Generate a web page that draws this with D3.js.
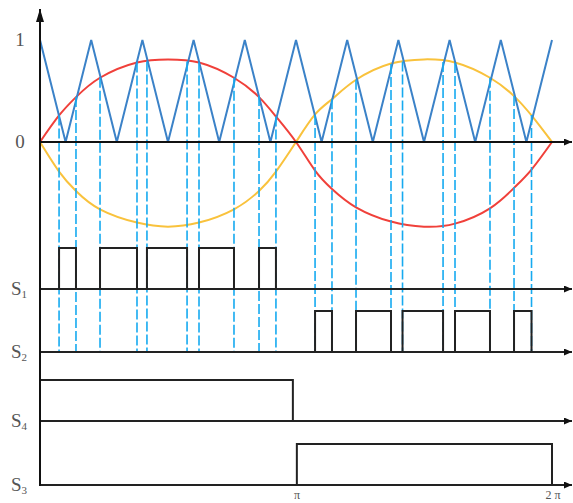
<!DOCTYPE html>
<html>
<head>
<meta charset="utf-8">
<script src="https://cdn.jsdelivr.net/npm/d3@7"></script>
<style>
  html, body { margin: 0; padding: 0; background: #fff; }
  svg { display: block; }
</style>
</head>
<body>
<div class="chart-wrapper"></div>
<script>
// angles in degrees, 0..360 = 0..2π
const carrierAngles = [0, 18, 36, 54, 72, 90, 108, 126, 144, 162, 180, 198, 216, 234, 252, 270, 288, 306, 324, 342, 360];
const carrierValues = [1, 0, 1, 0, 1, 0, 1, 0, 1, 0, 1, 0, 1, 0, 1, 0, 1, 0, 1, 0, 1];

const curveAngles = [0, 13.4, 25.3, 42.2, 68.2, 90, 111.8, 136.4, 154.0, 165.9, 180, 193.4, 205.3, 222.2, 246.8, 270, 291.8, 316.4, 333.3, 345.6, 360];
const redValues = [0, 0.26, 0.44, 0.63, 0.78, 0.81, 0.78, 0.63, 0.44, 0.25, 0, -0.28, -0.46, -0.64, -0.78, -0.83, -0.80, -0.65, -0.45, -0.27, 0];
const yellowValues = [0, -0.29, -0.48, -0.66, -0.79, -0.83, -0.79, -0.66, -0.48, -0.29, 0, 0.27, 0.42, 0.61, 0.77, 0.81, 0.78, 0.63, 0.45, 0.26, 0];

const switchAngles = [13.4, 25.3, 42.2, 68.2, 75.2, 103.4, 111.8, 136.4, 154.0, 165.9,
                      193.4, 205.3, 222.2, 246.8, 254.9, 283.4, 291.8, 316.4, 333.3, 345.6];
const switchLevels = [0.26, 0.44, 0.63, 0.78, 0.79, 0.79, 0.78, 0.63, 0.45, 0.25,
                      0.265, 0.42, 0.61, 0.765, 0.79, 0.785, 0.775, 0.63, 0.45, 0.265];

const s4Pulses = [[0, 177.8]];
const s3Pulses = [[180.6, 360]];

const yTickLabels = ['1', '0'];
const yTickValues = [1, 0];
const xTickLabels = ['π', '2 π'];
const xTickValues = [180, 360];

function pairUp(arr) {
    const out = [];
    for (let i = 0; i < arr.length; i += 2) out.push([arr[i], arr[i + 1]]);
    return out;
}
const s1Pulses = pairUp(switchAngles.slice(0, 10));
const s2Pulses = pairUp(switchAngles.slice(10));

const dims = {
    width: 573,
    height: 503,
    left: 40,
    right: 552,
    arrowEnd: 572,
    zeroY: 142,
    oneY: 40,
    axisTop: 9,
    axisBottom: 486,
    pulseHeight: 41,
};

const serif = '"Liberation Serif", "DejaVu Serif", serif';
const labelColor = '#555';

const rows = [
    {label: 'S', sub: '1', base: 289, pulses: s1Pulses},
    {label: 'S', sub: '2', base: 352, pulses: s2Pulses},
    {label: 'S', sub: '4', base: 421, pulses: s4Pulses},
    {label: 'S', sub: '3', base: 485, pulses: s3Pulses},
];

const svg = d3.select('.chart-wrapper')
    .append('svg')
    .attr('width', dims.width)
    .attr('height', dims.height);

const defs = svg.append('defs');
defs.append('marker')
    .attr('id', 'arrowR')
    .attr('viewBox', '0 0 8 7')
    .attr('refX', 8).attr('refY', 3.5)
    .attr('markerUnits', 'userSpaceOnUse')
    .attr('markerWidth', 8).attr('markerHeight', 7)
    .attr('orient', 'auto')
    .append('path').attr('d', 'M0,0L8,3.5L0,7Z').attr('fill', '#111');
defs.append('marker')
    .attr('id', 'arrowU')
    .attr('viewBox', '0 0 13 8')
    .attr('refX', 13).attr('refY', 4)
    .attr('markerUnits', 'userSpaceOnUse')
    .attr('markerWidth', 13).attr('markerHeight', 8)
    .attr('orient', 'auto')
    .append('path').attr('d', 'M0,0L13,4L0,8Z').attr('fill', '#111');

const xScale = d3.scaleLinear().domain([0, 360]).range([dims.left, dims.right]);
const yScale = d3.scaleLinear().domain([0, 1]).range([dims.zeroY, dims.oneY]);

const curveLine = d3.line()
    .x(d => xScale(d[0]))
    .y(d => yScale(d[1]))
    .curve(d3.curveNatural);

const straightLine = d3.line()
    .x(d => xScale(d[0]))
    .y(d => yScale(d[1]));

// modulating waves
svg.append('path')
    .attr('d', curveLine(d3.zip(curveAngles, yellowValues)))
    .attr('fill', 'none')
    .attr('stroke', '#f9c23c')
    .attr('stroke-width', 2);

svg.append('path')
    .attr('d', curveLine(d3.zip(curveAngles, redValues)))
    .attr('fill', 'none')
    .attr('stroke', '#f0403a')
    .attr('stroke-width', 2);

// carrier
svg.append('path')
    .attr('d', straightLine(d3.zip(carrierAngles, carrierValues)))
    .attr('fill', 'none')
    .attr('stroke', '#3b82c8')
    .attr('stroke-width', 2);

// switching instants
svg.append('g')
    .selectAll('line')
    .data(d3.zip(switchAngles, switchLevels))
    .join('line')
    .attr('x1', d => xScale(d[0]))
    .attr('x2', d => xScale(d[0]))
    .attr('y1', d => yScale(d[1]))
    .attr('y2', rows[1].base)
    .attr('stroke', '#16aaf0')
    .attr('stroke-width', 1.6)
    .attr('stroke-dasharray', '10,3');

// zero line
svg.append('line')
    .attr('x1', dims.left).attr('x2', dims.arrowEnd)
    .attr('y1', dims.zeroY).attr('y2', dims.zeroY)
    .attr('stroke', '#111').attr('stroke-width', 2)
    .attr('marker-end', 'url(#arrowR)');

// pulse rows
rows.forEach(r => {
    const rowY = d3.scaleLinear().domain([0, 1]).range([r.base, r.base - dims.pulseHeight]);
    svg.append('line')
        .attr('x1', dims.left).attr('x2', dims.arrowEnd)
        .attr('y1', r.base).attr('y2', r.base)
        .attr('stroke', '#222').attr('stroke-width', 2)
        .attr('marker-end', 'url(#arrowR)');

    svg.append('g')
        .selectAll('path')
        .data(r.pulses)
        .join('path')
        .attr('d', p => `M${xScale(p[0])},${rowY(0)}V${rowY(1)}H${xScale(p[1])}V${rowY(0)}`)
        .attr('fill', 'none')
        .attr('stroke', '#222')
        .attr('stroke-width', 2);

    const lab = svg.append('text')
        .attr('x', 11)
        .attr('y', r.base + 6)
        .attr('font-family', serif)
        .attr('fill', labelColor)
        .attr('font-size', 19);
    lab.append('tspan').text(r.label);
    lab.append('tspan').attr('font-size', 11).attr('dy', 3).text(r.sub);
});

// y axis
svg.append('line')
    .attr('x1', dims.left).attr('x2', dims.left)
    .attr('y1', dims.axisBottom).attr('y2', dims.axisTop)
    .attr('stroke', '#111').attr('stroke-width', 2)
    .attr('marker-end', 'url(#arrowU)');

svg.append('g')
    .selectAll('text')
    .data(d3.zip(yTickValues, yTickLabels))
    .join('text')
    .attr('x', 20)
    .attr('y', d => yScale(d[0]) + 6)
    .attr('text-anchor', 'middle')
    .attr('font-family', serif)
    .attr('fill', labelColor)
    .attr('font-size', 19)
    .text(d => d[1]);

svg.append('g')
    .selectAll('text')
    .data(d3.zip(xTickValues, xTickLabels))
    .join('text')
    .attr('x', d => xScale(d[0]) + 1)
    .attr('y', 499)
    .attr('text-anchor', 'middle')
    .attr('font-family', serif)
    .attr('fill', labelColor)
    .attr('font-size', 12)
    .text(d => d[1]);
</script>
</body>
</html>
